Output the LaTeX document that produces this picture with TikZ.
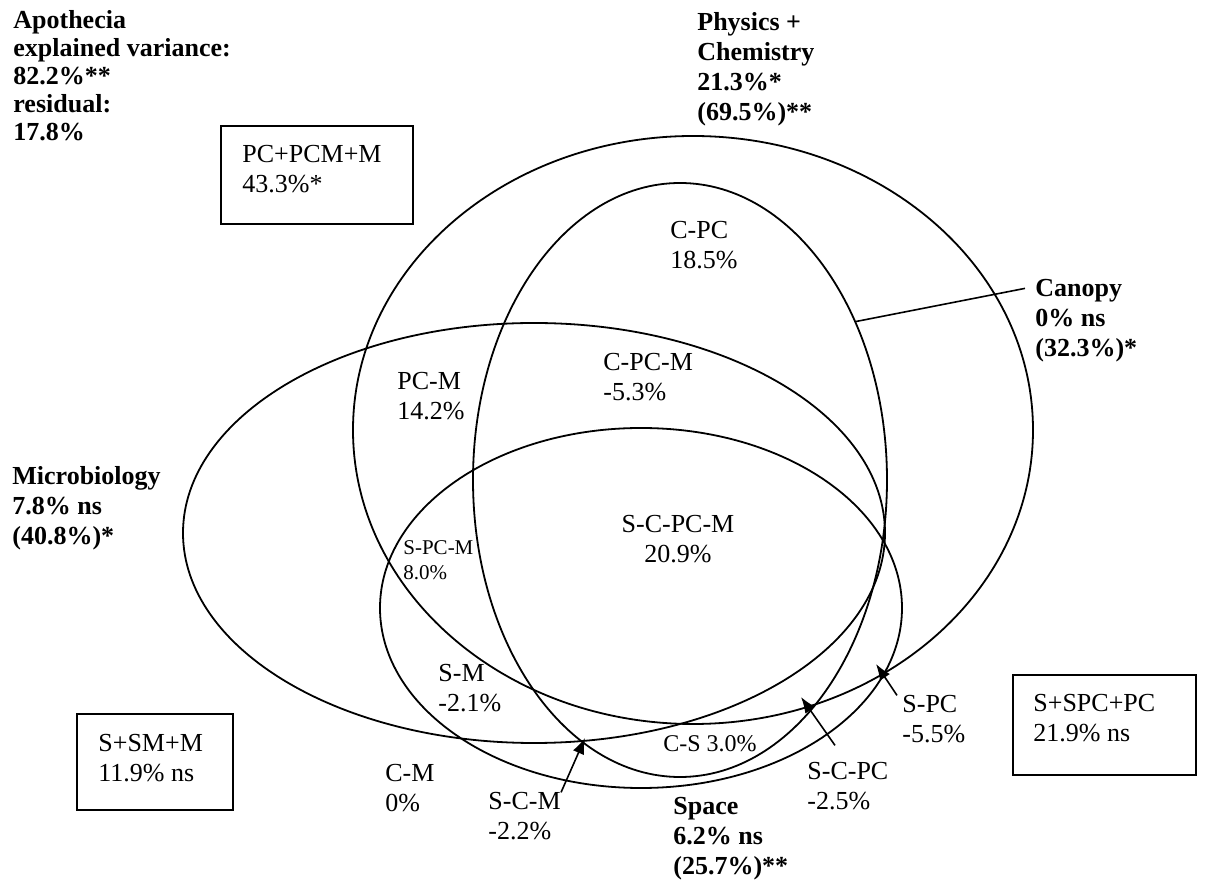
\documentclass[tikz,border=0pt]{standalone}
\usepackage{fontspec}
\setmainfont{Liberation Serif}
\usetikzlibrary{arrows.meta,shapes.geometric}

\begin{document}
\begin{tikzpicture}[>={Latex[length=8pt,width=6pt]},x=0.5pt,y=-0.5pt,
	venn/.style={draw,ellipse,line width=0.9pt,inner sep=0pt},
	lbl/.style={anchor=base west,inner sep=0pt,align=left,font=\fontsize{13}{15}\selectfont},
	head/.style={lbl,font=\bfseries\fontsize{13}{15}\selectfont},
	tiny/.style={lbl,font=\fontsize{10.5}{12.5}\selectfont},
	resbox/.style={line width=0.9pt}]
	\useasboundingbox (0,0) rectangle (1217,881);
	% the four sets
	\node[venn,minimum width=340pt,minimum height=294pt] (pc) at (693,430) {};
	\node[venn,minimum width=207pt,minimum height=297pt] (cnp) at (680,480) {};
	\node[venn,minimum width=351pt,minimum height=210pt] (mic) at (534,533) {};
	\node[venn,minimum width=261pt,minimum height=180pt] (spa) at (641,608) {};
	% set names (placed at the baseline of the last line)
	\node[head,font=\bfseries\fontsize{13}{14}\selectfont] (apoth) at (13,141) {Apothecia\\explained variance:\\82.2\%**\\residual:\\17.8\%};
	\node[head] (phys) at (697,121) {Physics +\\Chemistry\\21.3\%*\\(69.5\%)**};
	\node[head] (canopy) at (1035,357) {Canopy\\0\% ns\\(32.3\%)*};
	\node[head] (micro) at (12,545) {Microbiology\\7.8\% ns\\(40.8\%)*};
	\node[head] (space) at (673,875) {Space\\6.2\% ns\\(25.7\%)**};
	% fractions
	\node[lbl] (cpc) at (670,269) {C-PC\\18.5\%};
	\node[lbl] (cpcm) at (603,401) {C-PC-M\\-5.3\%};
	\node[lbl] (pcm) at (397,420) {PC-M\\14.2\%};
	\node[lbl,anchor=base,align=center] (scpcm) at (678,563) {S-C-PC-M\\20.9\%};
	\node[tiny] (spcm) at (403,580) {S-PC-M\\8.0\%};
	\node[lbl] (sm) at (438,712) {S-M\\-2.1\%};
	\node[lbl] (cm) at (385,812) {C-M\\0\%};
	\node[lbl] (scm) at (488,840) {S-C-M\\-2.2\%};
	\node[lbl,font=\fontsize{12}{15}\selectfont] (cs) at (663,752) {C-S 3.0\%};
	\node[lbl] (scpc) at (807,810) {S-C-PC\\-2.5\%};
	\node[lbl] (spc) at (902,743) {S-PC\\-5.5\%};
	% boxed sums
	\draw[resbox] (221,126) rectangle (413,224);
	\node[lbl] (pcmsum) at (242,193) {PC+PCM+M\\43.3\%*};
	\draw[resbox] (77,714) rectangle (233,810);
	\node[lbl] (smsum) at (98,782) {S+SM+M\\11.9\% ns};
	\draw[resbox] (1013,675) rectangle (1196,775);
	\node[lbl] (spcsum) at (1033,742) {S+SPC+PC\\21.9\% ns};
	% pointers
	\draw[line width=0.8pt] ([xshift=-5pt,yshift=-4.5pt]canopy.north west) -- (cnp.42);
	\coordinate (scmtip) at (585,738);
	\draw[->,line width=0.8pt] (scm.north east) -- (scmtip);
	\coordinate (scpctip) at (801,697);
	\draw[->,line width=0.8pt] ([xshift=14pt,yshift=8.5pt]scpc.north west) -- (scpctip);
	\coordinate (spctip) at (876,664);
	\draw[->,line width=0.8pt] ([xshift=-2.5pt]spc.north west) -- (spctip);
\end{tikzpicture}
\end{document}
